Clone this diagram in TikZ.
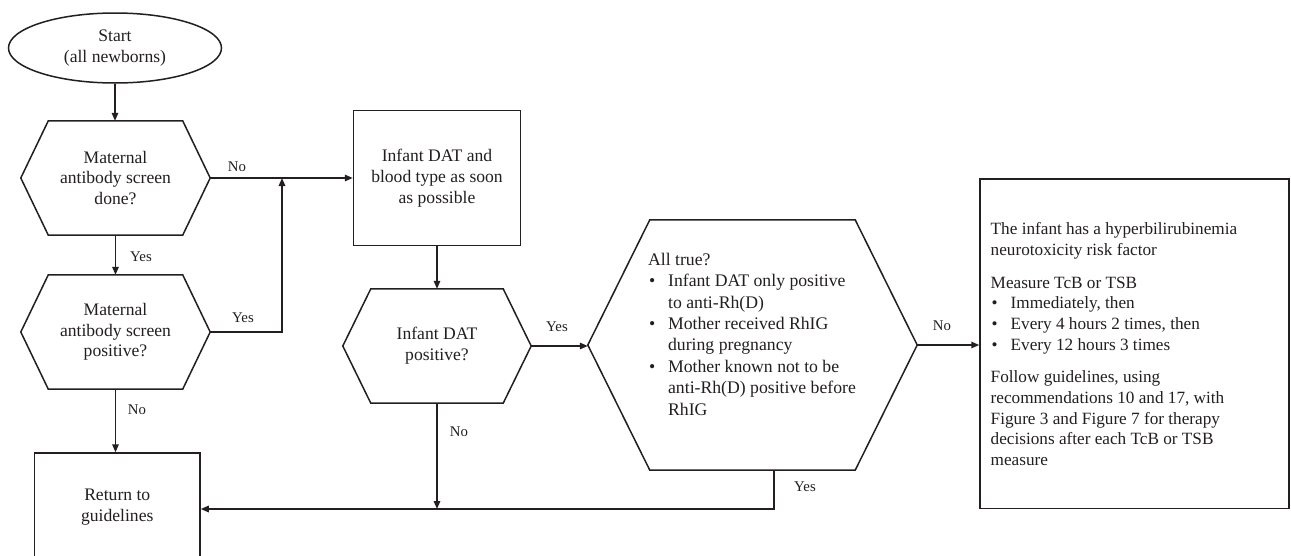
\documentclass[tikz,border=0pt]{standalone}
\usepackage{fontspec}
\setmainfont{Liberation Serif}
\usetikzlibrary{arrows.meta,shapes.geometric}
\definecolor{ink}{HTML}{231F20}
\newcommand\hexoutline[2]{%
  \draw[ln] ([xshift=#2]#1.north west) -- ([xshift=-#2]#1.north east) -- (#1.east)
    -- ([xshift=-#2]#1.south east) -- ([xshift=#2]#1.south west) -- (#1.west) -- cycle;}
\newcommand\bul{\makebox[20pt][l]{\hspace{1pt}\textbullet}}
\begin{document}
\begin{tikzpicture}[x=1pt,y=-1pt,
  ln/.style={draw=ink,line width=1.5pt,line join=miter},
  arr/.style={ln,-{Triangle[length=8pt,width=6.5pt]}},
  txt/.style={text=ink,font=\fontsize{17.6pt}{20.7pt}\selectfont,align=center,inner sep=0pt},
  hexbox/.style={txt,minimum width=#1,inner sep=0pt},
  boxnode/.style={txt,draw=ink,line width=1.5pt},
  lbl/.style={text=ink,font=\fontsize{14.8pt}{17pt}\selectfont,inner sep=0pt}]
\useasboundingbox (0,0) rectangle (1291,555);
\clip (0,0) rectangle (1291,555);
\fill[white] (0,0) rectangle (1291,555);

% nodes
\node[boxnode,ellipse,minimum width=213pt,minimum height=70pt,inner sep=0pt] (start) at (115,48) {Start\\(all newborns)};
\node[hexbox=189pt,minimum height=114pt] (hex1) at (115.5,178) {Maternal\\antibody screen\\done?};
\node[hexbox=189pt,minimum height=114pt] (hex2) at (115.5,332) {Maternal\\antibody screen\\positive?};
\node[boxnode,minimum width=167pt,minimum height=135pt] (box2) at (437,178) {Infant DAT and\\blood type as soon\\as possible};
\node[hexbox=188pt,minimum height=114pt] (hex3) at (437,346) {Infant DAT\\positive?};
\node[hexbox=329pt,minimum height=250pt] (big) at (752.5,345) {};
\node[txt,font=\fontsize{17.7pt}{21.4pt}\selectfont] (bigtext) at (752,336) {%
  \begin{tabular}{@{}l@{}l@{}}
  \multicolumn{2}{@{}l@{}}{All true?}\\
  \bul & Infant DAT only positive\\
       & to anti-Rh(D)\\
  \bul & Mother received RhIG\\
       & during pregnancy\\
  \bul & Mother known not to be\\
       & anti-Rh(D) positive before\\
       & RhIG
  \end{tabular}};
\node[boxnode,minimum width=165.5pt,minimum height=108pt] (ret) at (117.25,507) {Return to\\guidelines};
\node[draw=ink,line width=1.5pt,minimum width=309pt,minimum height=329.5pt,inner sep=0pt] (final) at (1134.5,343.75) {};
\node[txt,font=\fontsize{17.2pt}{20.7pt}\selectfont,anchor=west] (finaltext) at (990.5,346) {%
  \begin{tabular}{@{}l@{}l@{}}
  \multicolumn{2}{@{}l@{}}{The infant has a hyperbilirubinemia}\\
  \multicolumn{2}{@{}l@{}}{neurotoxicity risk factor}\\[12pt]
  \multicolumn{2}{@{}l@{}}{Measure TcB or TSB}\\
  \bul & Immediately, then\\
  \bul & Every 4 hours 2 times, then\\
  \bul & Every 12 hours 3 times\\[12pt]
  \multicolumn{2}{@{}l@{}}{Follow guidelines, using}\\
  \multicolumn{2}{@{}l@{}}{recommendations 10 and 17, with}\\
  \multicolumn{2}{@{}l@{}}{Figure 3 and Figure 7 for therapy}\\
  \multicolumn{2}{@{}l@{}}{decisions after each TcB or TSB}\\
  \multicolumn{2}{@{}l@{}}{measure}
  \end{tabular}};

\hexoutline{hex1}{27.5pt}
\hexoutline{hex2}{27.5pt}
\hexoutline{hex3}{28pt}
\hexoutline{big}{62pt}

% junctions
\coordinate (j1) at (282,178);
\coordinate (j2) at (774,509);

% connectors
\draw[arr] (start.south) -- (start.south |- hex1.north);
\draw[arr] (hex1.east) -- (box2.west);
\draw[arr] (hex1.south) -- (hex2.north);
\draw[arr] (hex2.east) -| (j1);
\draw[arr] (hex2.south) -- (hex2.south |- ret.north);
\draw[arr] (box2.south) -- (hex3.north);
\draw[arr] (hex3.east) -- (hex3.east -| big.west);
\draw[arr] (hex3.south) -- (hex3.south |- j2);
\draw[arr] (j2 |- big.south) -- (j2) -- (j2 -| ret.east);
\draw[arr] (big.east) -- (big.east -| final.west);

% labels
\node[lbl] (l1) at (237,167) {No};
\node[lbl] (l2) at (141,257) {Yes};
\node[lbl] (l3) at (243,318) {Yes};
\node[lbl] (l4) at (137,410) {No};
\node[lbl] (l5) at (557,327) {Yes};
\node[lbl] (l6) at (459,432) {No};
\node[lbl] (l7) at (805,487) {Yes};
\node[lbl] (l8) at (942,326) {No};
\end{tikzpicture}
\end{document}
